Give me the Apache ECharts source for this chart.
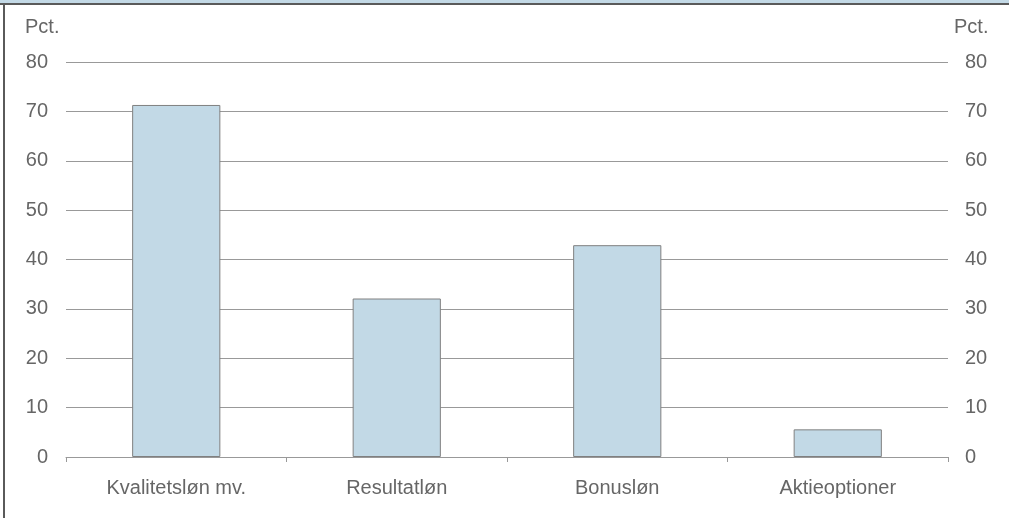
<!DOCTYPE html>
<html><head><meta charset="utf-8">
<script src="https://cdn.jsdelivr.net/npm/echarts@6/dist/echarts.min.js"></script>
<style>html,body{margin:0;padding:0;background:#fff}#c{width:1009px;height:518px}</style>
</head><body><div id="c"></div>
<script>
const categories = ['Kvalitetsløn mv.', 'Resultatløn', 'Bonusløn', 'Aktieoptioner'];
const values = [71.3, 32.1, 42.9, 5.6];
const unitLabel = 'Pct.';
const chart = echarts.init(document.getElementById('c'));
const txt = '#666666';
const font = "'Liberation Sans', Arial, sans-serif";
const fs = 20;
chart.setOption({
  animation: false,
  grid: {left: 66, right: 61, top: 62, bottom: 61},
  graphic: [
    {type: 'rect', shape: {x: 0, y: 0, width: 1009, height: 3}, style: {fill: '#c3d9e6'}},
    {type: 'rect', shape: {x: 0, y: 3, width: 1009, height: 2}, style: {fill: '#5a5a5a'}},
    {type: 'rect', shape: {x: 3, y: 3, width: 2, height: 515}, style: {fill: '#5a5a5a'}},
    {type: 'text', left: 25, top: 17, style: {text: unitLabel, fill: txt, font: fs + 'px ' + font}},
    {type: 'text', left: 954, top: 17, style: {text: unitLabel, fill: txt, font: fs + 'px ' + font}}
  ],
  xAxis: {
    type: 'category', data: categories, boundaryGap: true,
    axisLine: {lineStyle: {color: '#999', width: 1}},
    axisTick: {show: true, length: 5, lineStyle: {color: '#999'}},
    axisLabel: {color: txt, fontSize: fs, fontFamily: font, margin: 21}
  },
  yAxis: [
    {type: 'value', min: 0, max: 80, interval: 10,
     axisLine: {show: false}, axisTick: {show: false},
     axisLabel: {color: txt, fontSize: fs, fontFamily: font, margin: 18},
     splitLine: {lineStyle: {color: '#999', width: 1}}},
    {type: 'value', min: 0, max: 80, interval: 10, position: 'right',
     axisLine: {show: false}, axisTick: {show: false},
     axisLabel: {color: txt, fontSize: fs, fontFamily: font, margin: 17},
     splitLine: {show: false}}
  ],
  series: [{
    type: 'bar', data: values, barWidth: '40%',
    itemStyle: {color: '#c2d9e6', borderColor: '#808080', borderWidth: 1}
  }]
});
</script></body></html>
